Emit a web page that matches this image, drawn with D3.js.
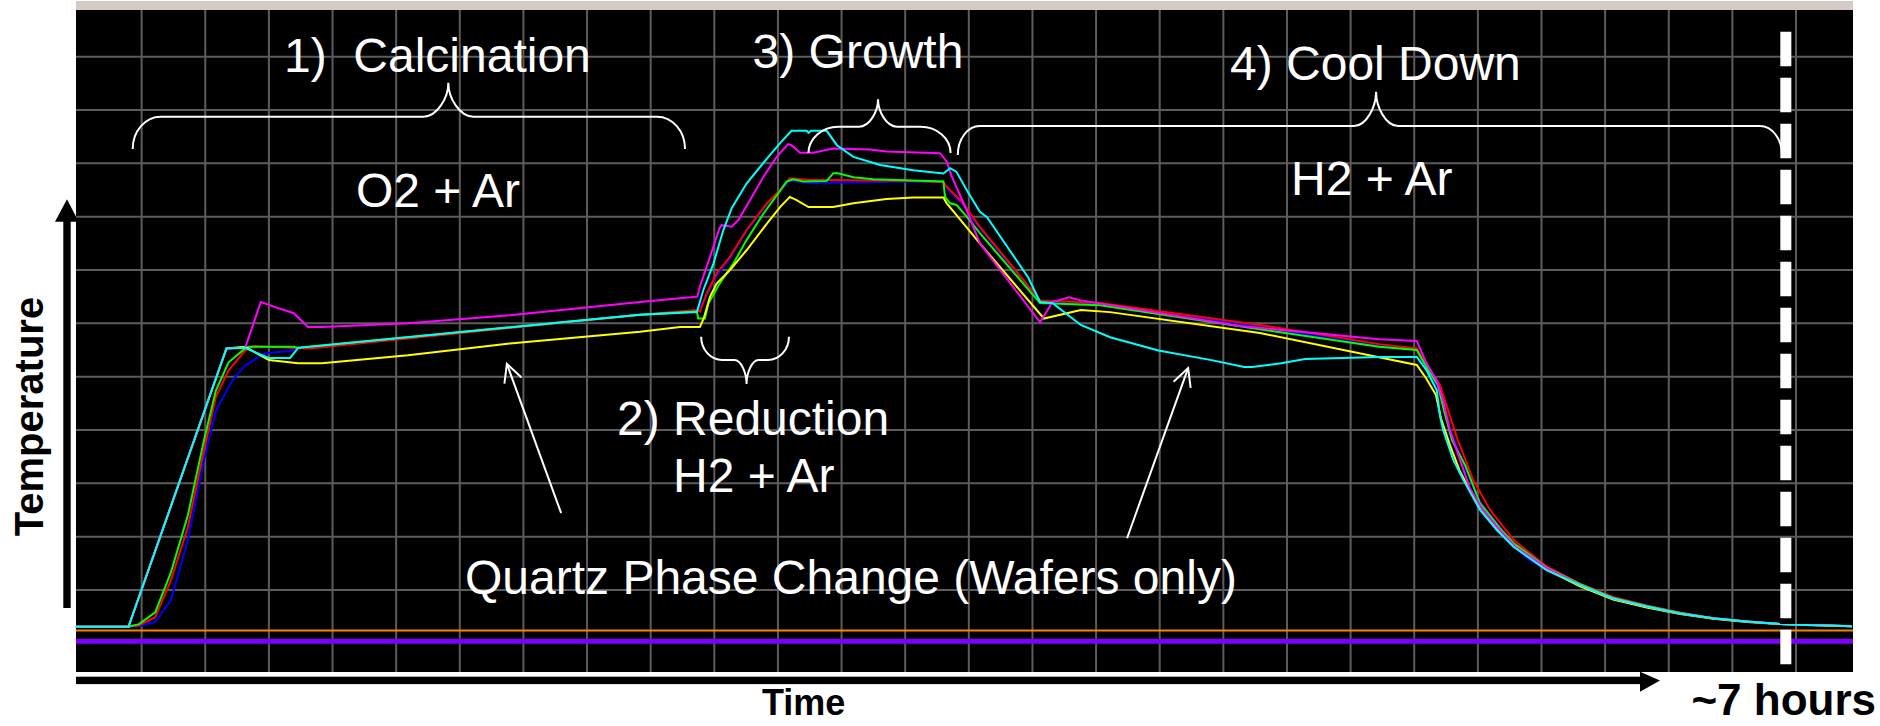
<!DOCTYPE html>
<html>
<head>
<meta charset="utf-8">
<script src="https://cdn.jsdelivr.net/npm/d3@7"></script>
<style>
    body { margin: 0; background: #fff; }
    svg { display: block; font-family: "Liberation Sans", Arial, sans-serif; }
</style>
</head>
<body>
<div id="chart"></div>
<script>
// ===== Data : [minutes, degC] ==========================================
const cyan = [[-0.5,31],[11.9,31],[35.0,553],[39.4,554],[43.1,541],[45.0,535],[50.0,535],[51.9,554],
    [132.5,616],[145.9,621],[147.4,662],[149.8,712],[152.1,774],[154.1,816],[157.6,862],[162.4,909],
    [165.5,938],[168.2,961],[171.8,961],[172.2,957],[172.8,961],[176.5,961],[178.9,934],[182.8,912],
    [189.1,897],[196.9,887],[204.0,881],[205.6,891],[207.1,884],[209.5,850],[212.6,809],[214.3,799],
    [224.0,686],[226.8,640],[229.7,638],[236.4,597],[243.3,574],[254.7,549],[267.2,531],[274.9,518],
    [276.8,518],[283.6,525],[289.3,533],[306.7,537],[315.6,537],[317.9,512],[320.3,475],[321.1,425],
    [321.8,400],[324.2,344],[326.6,306],[330.5,250],[334.5,212],[338.4,181],[346.2,137],[354.1,109],
    [361.9,84],[369.8,69],[377.7,56],[385.5,47],[393.4,41],[401.2,36],[409.1,34],[418.2,32]];
const magenta = [[-0.5,31],[11.9,31],[35.0,553],[39.4,554],[43.1,640],[47.0,629],[50.9,619],[54.2,593],
    [57.5,593],[77.8,600],[101.8,615],[132.5,640],[141.9,647],[146.0,650],[146.6,669],[147.8,697],
    [149.8,744],[151.2,778],[151.7,784],[154.1,781],[155.7,794],[158.4,831],[161.6,875],[164.7,912],
    [167.4,936],[168.2,934],[170.2,920],[173.3,920],[178.0,928],[186.7,926],[190.6,922],[203.2,919],
    [204.8,903],[206.0,875],[209.5,812],[212.6,750],[226.8,602],[229.7,640],[233.6,649],[236.4,643],
    [273.9,595],[306.7,570],[315.6,567],[317.9,525],[320.3,493],[321.8,456],[323.4,400],[325.8,344],
    [328.1,291],[331.2,249],[335.2,212],[338.7,182],[346.2,141],[354.1,109],[361.9,84],[369.8,69],
    [377.7,56],[385.5,47],[393.4,41],[401.2,36],[418.2,32]];
const red = [[-0.5,31],[11.8,31],[14.4,34],[18.2,49],[21.9,118],[25.9,218],[29.7,362],[32.5,462],
    [35.5,512],[39.4,549],[41.3,557],[54.7,553],[132.5,616],[145.9,625],[146.6,622],[148.2,656],
    [150.6,694],[153.7,725],[157.6,775],[162.4,825],[165.5,850],[167.8,872],[171.8,869],[196.9,867],
    [204.0,865],[204.8,856],[208.7,825],[212.6,781],[226.8,643],[240.9,638],[278.6,597],[306.7,561],
    [315.6,553],[318.7,512],[321.1,484],[322.7,444],[325.0,387],[328.9,306],[332.9,250],[338.4,194],
    [346.2,144],[354.1,112],[361.9,87],[369.8,71],[377.7,58],[385.5,47],[393.4,41],[401.2,36],[418.2,32]];
const green = [[-0.5,31],[11.8,31],[14.4,36],[18.2,58],[21.9,133],[25.9,240],[29.7,381],[32.5,474],
    [35.5,527],[39.4,553],[40.3,556],[50.9,556],[51.9,554],[132.5,616],[145.9,622],[146.2,609],
    [147.8,609],[148.6,637],[151.3,675],[154.5,712],[157.6,756],[161.6,806],[167.1,866],[168.6,870],
    [171.0,866],[176.5,867],[178.0,881],[178.9,882],[182.8,874],[187.5,870],[204.0,866],[204.4,837],
    [205.6,825],[207.1,822],[209.5,800],[212.6,769],[226.8,638],[240.9,634],[278.6,589],[306.7,556],
    [315.6,550],[318.3,512],[320.6,484],[322.0,437],[323.9,381],[327.0,334],[330.5,263],[335.2,216],
    [338.4,188],[346.2,142],[354.1,111],[361.9,85],[369.8,70],[377.7,57],[385.5,47],[393.4,41],
    [401.2,36],[418.2,32]];
const blue = [[-0.5,31],[11.8,31],[14.4,32],[18.2,40],[21.9,81],[25.9,193],[29.7,343],[32.5,437],
    [36.4,493],[39.4,521],[44.1,544],[50.0,548],[52.3,554],[132.5,616],[145.9,623],[148.2,652],
    [150.6,690],[153.7,722],[157.6,773],[162.4,823],[165.5,848],[167.8,868],[172.8,863],[196.9,866],
    [204.0,865],[205.1,850],[208.7,822],[212.6,778],[226.8,640],[240.9,636],[278.6,593],[306.7,558],
    [315.6,551],[318.3,510],[320.6,480],[322.0,440],[323.9,390],[327.0,330],[330.5,265],[335.2,218],
    [337.6,188],[342.3,156],[346.2,139],[354.1,109],[361.9,84],[369.8,69],[377.7,56],[385.5,47],
    [393.4,41],[401.2,36],[418.2,32]];
const yellow = [[-0.5,31],[11.9,31],[35.0,553],[39.4,556],[45.0,531],[51.9,525],[57.5,525],[77.8,540],
    [101.8,562],[132.5,584],[141.9,593],[146.6,593],[147.5,609],[149.0,650],[150.6,675],[153.7,700],
    [157.6,737],[162.4,787],[165.5,818],[167.8,837],[169.4,831],[172.2,818],[178.0,818],[182.8,825],
    [190.6,833],[196.9,836],[204.0,836],[204.8,825],[207.1,803],[212.6,750],[227.7,609],[236.4,625],
    [243.3,621],[278.6,582],[306.4,537],[315.6,522],[317.8,497],[320.1,466],[321.3,422],[323.4,372],
    [325.8,322],[329.3,269],[334.1,218],[338.3,184],[346.2,138],[354.1,107],[361.9,82],[369.8,67],
    [377.7,55],[385.5,46],[393.4,40],[401.2,36],[418.2,32]];

const seriesNames = ['blue', 'red', 'green', 'yellow', 'magenta', 'cyan'];
const seriesData = [blue, red, green, yellow, magenta, cyan];
const seriesColors = ['#0000ff', '#ff0000', '#00ff00', '#ffff00', '#ff00ff', '#00ffff'];

// flat channels along the bottom
const refLevels = [24, 4];
const refColors = ['#ff8000', '#8000ff'];
const refWidths = [2, 5];

const endMarker = 402.6;   // ~7 hours
const gridMinutes = d3.range(15, 406, 15);
const gridTemps = d3.range(100, 1101, 100);

// phase braces : [start, middle, end] in minutes
const phaseBraces = [[12.9, 87.3, 143.1], [172.2, 188.6, 205.7], [207.4, 306.0, 401.7], [146.9, 157.6, 167.6]];
// arrows : [tailMin, tailC, tipMin, tipC]
const arrows = [[113.9, 244, 101.1, 524], [247.3, 197, 261.7, 516]];

// ===== Layout ====================================================================================
const svgWidth = 1880;
const svgHeight = 726;
const plot = {left: 76, right: 1853, top: 10, bottom: 672};

const svg = d3.select('#chart').append('svg')
    .attr('width', svgWidth)
    .attr('height', svgHeight);

const xScale = d3.scaleLinear().domain([0, 15]).range([78, 78 + 63.63]);
const yScale = d3.scaleLinear().domain([0, 100]).range([643.3, 643.3 - 53.33]);

svg.append('rect')
    .attr('x', plot.left).attr('y', 1)
    .attr('width', plot.right - plot.left).attr('height', plot.top - 1)
    .attr('fill', '#d6cac6');
svg.append('rect')
    .attr('x', plot.left).attr('y', plot.top)
    .attr('width', plot.right - plot.left).attr('height', plot.bottom - plot.top)
    .attr('fill', '#000');

const gridG = svg.append('g').attr('stroke', '#5c5c5c').attr('stroke-width', 2);
gridG.selectAll('.vg').data(gridMinutes).enter().append('line')
    .attr('x1', d => xScale(d)).attr('x2', d => xScale(d))
    .attr('y1', plot.top).attr('y2', plot.bottom);
gridG.selectAll('.hg').data(gridTemps).enter().append('line')
    .attr('y1', d => yScale(d)).attr('y2', d => yScale(d))
    .attr('x1', plot.left).attr('x2', plot.right);

svg.selectAll('.ref').data(refLevels).enter().append('line')
    .attr('x1', plot.left).attr('x2', plot.right)
    .attr('y1', d => yScale(d)).attr('y2', d => yScale(d))
    .attr('stroke', (d, i) => refColors[i])
    .attr('stroke-width', (d, i) => refWidths[i]);

const line = d3.line().x(d => xScale(d[0])).y(d => yScale(d[1]));
svg.append('g').selectAll('path').data(seriesData).enter().append('path')
    .attr('class', (d, i) => seriesNames[i])
    .attr('d', line)
    .attr('fill', 'none')
    .attr('stroke', (d, i) => seriesColors[i])
    .attr('stroke-width', 2);

// end of run marker
svg.append('line')
    .attr('x1', xScale(endMarker)).attr('x2', xScale(endMarker))
    .attr('y1', 31.7).attr('y2', 665)
    .attr('stroke', '#fff').attr('stroke-width', 11)
    .attr('stroke-dasharray', '34.5 11.5');

// ===== Annotations ===============================================================================
function bracePath(x0, xm, x1, yEnd, yBar, yTip, rEnd, rMid){
    const e = yBar + (yEnd - yBar) * 0.45;
    const t = yBar + (yTip - yBar) * 0.55;
    return `M${x0},${yEnd} C${x0},${e} ${x0 + rEnd*0.45},${yBar} ${x0 + rEnd},${yBar}`
        + ` L${xm - rMid},${yBar} C${xm - rMid*0.45},${yBar} ${xm},${t} ${xm},${yTip}`
        + ` C${xm},${t} ${xm + rMid*0.45},${yBar} ${xm + rMid},${yBar}`
        + ` L${x1 - rEnd},${yBar} C${x1 - rEnd*0.45},${yBar} ${x1},${e} ${x1},${yEnd}`;
}
const braceY = [[149, 116.7, 82.7, 28, 25], [153, 126.7, 99.3, 30, 19], [155, 126, 91.7, 22, 22], [336.7, 360, 384, 21, 12]];
svg.append('g').selectAll('path').data(phaseBraces).enter().append('path')
    .attr('d', (d, i) => bracePath(xScale(d[0]), xScale(d[1]), xScale(d[2]), ...braceY[i]))
    .attr('fill', 'none').attr('stroke', '#fff').attr('stroke-width', 2);

const arrowG = svg.append('g').attr('stroke', '#fff').attr('stroke-width', 2).attr('fill', 'none');
arrows.forEach(a => {
    const x0 = xScale(a[0]), y0 = yScale(a[1]), x1 = xScale(a[2]), y1 = yScale(a[3]);
    const ang = Math.atan2(y0 - y1, x0 - x1);
    const hl = 20, sp = 27 * Math.PI / 180;
    arrowG.append('line').attr('x1', x0).attr('y1', y0).attr('x2', x1).attr('y2', y1);
    arrowG.append('path').attr('d', `M${x1 + hl*Math.cos(ang - sp)},${y1 + hl*Math.sin(ang - sp)} L${x1},${y1} L${x1 + hl*Math.cos(ang + sp)},${y1 + hl*Math.sin(ang + sp)}`);
});

const labels = [
    ['1)', 284, 71.7], ['Calcination', 353.3, 71.7], ['O2 + Ar', 356, 207],
    ['3) Growth', 752.6, 68], ['4) Cool Down', 1230, 80], ['H2 + Ar', 1291, 195],
    ['2) Reduction', 617, 435], ['H2 + Ar', 673, 492],
    ['Quartz Phase Change (Wafers only)', 465, 594]
];
svg.append('g').selectAll('text').data(labels).enter().append('text')
    .attr('x', d => d[1]).attr('y', d => d[2])
    .attr('fill', '#fff').attr('font-size', 48)
    .text(d => d[0]);

// ===== Axes arrows ===============================================================================
svg.append('rect').attr('x', 63.3).attr('y', 215).attr('width', 7.4).attr('height', 608 - 215).attr('fill', '#000');
svg.append('path').attr('d', 'M55,221.7 L67,199.3 L78.6,221.7 Z').attr('fill', '#000');
svg.append('rect').attr('x', plot.left).attr('y', 676.7).attr('width', 1642 - plot.left).attr('height', 7.4).attr('fill', '#000');
svg.append('path').attr('d', 'M1640,671.7 L1660,680.4 L1640,691.7 Z').attr('fill', '#000');

svg.append('text')
    .attr('transform', 'translate(42.7,416.5) rotate(-90)')
    .attr('text-anchor', 'middle')
    .attr('font-size', 40).attr('font-weight', 'bold')
    .text('Temperature');
svg.append('text')
    .attr('x', 762).attr('y', 715)
    .attr('font-size', 36).attr('font-weight', 'bold')
    .text('Time');
svg.append('text')
    .attr('x', 1876).attr('y', 715)
    .attr('text-anchor', 'end')
    .attr('font-size', 44).attr('font-weight', 'bold')
    .text('~7 hours');
</script>
</body>
</html>
